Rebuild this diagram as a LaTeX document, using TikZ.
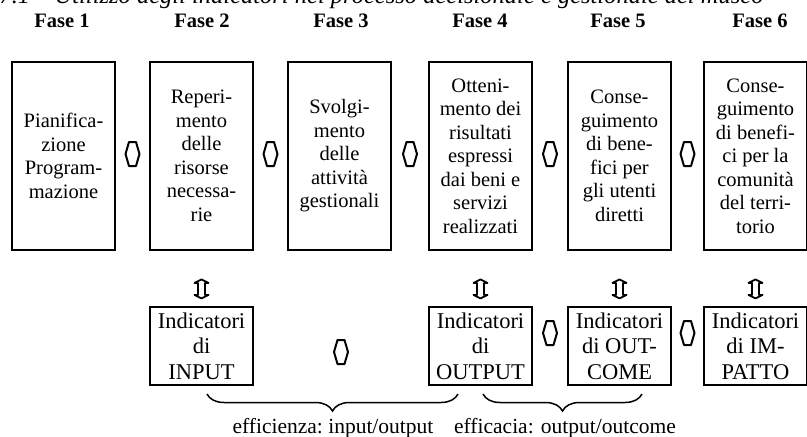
\documentclass[tikz,border=0pt]{standalone}
\usepackage{fontspec}
\setmainfont{Liberation Serif}
\usetikzlibrary{calc,positioning,decorations.pathreplacing}

\begin{document}
\begin{tikzpicture}[
    % GLOBAL CFG
    x=1pt, y=-1pt,
    font=\fontsize{20.5}{23.5}\selectfont,
    % Styles
    phase/.style={% For the main boxes
        rectangle,
        draw,
        line width=1.8pt,
        minimum width=103pt,
        minimum height=188pt,
        inner sep=0pt,
        align=center,
        },
    indicator/.style={% For the boxes with the indicators
        rectangle,
        draw,
        line width=1.8pt,
        minimum width=103pt,
        minimum height=78pt,
        inner sep=0pt,
        align=center,
        font=\fontsize{22.5}{25.5}\selectfont,
        },
    title/.style={% For the phase names
        font=\fontsize{20.5}{24}\selectfont\bfseries,
        anchor=base,
        },
    ratio/.style={% For the texts under the braces
        font=\fontsize{21.5}{24}\selectfont,
        anchor=base,
        },
    brace/.style={% Curly braces under the indicators
        decorate,
        decoration={brace, mirror, amplitude=17pt},
        line width=1.5pt,
        },
    hlink/.pic={% horizontal double arrow
        \draw[line width=2pt, line join=round]
            (-3.5,-12) -- (3.5,-12) -- (7,0) -- (3.5,12) -- (-3.5,12) -- (-7,0) -- cycle;
        },
    vlink/.pic={% vertical double arrow
        \draw[line width=1.8pt, line join=round]
            (-3.5,-6) -- (-7,-6) -- (0,-9.5) -- (7,-6) -- (3.5,-6) -- (3.5,6)
            -- (7,6) -- (0,9.5) -- (-7,6) -- (-3.5,6) -- cycle;
        },
    ]

    % Bounding box of the page
    \useasboundingbox (0,0) rectangle (807,437);

    % Caption, cut at the top
    \node[anchor=base west, font=\fontsize{24.5}{26}\selectfont\itshape] (cap) at (-4,3)
        {7.1 -- Utilizzo degli indicatori nel processo decisionale e gestionale del museo};

    % Phase names
    \node[title] (t1) at (62,27) {Fase 1};
    \node[title] (t2) at (202,27) {Fase 2};
    \node[title] (t3) at (341,27) {Fase 3};
    \node[title] (t4) at (480,27) {Fase 4};
    \node[title] (t5) at (618,27) {Fase 5};
    \node[title] (t6) at (760,27) {Fase 6};

    % Draw the phases named p#
    \node[phase] (p1) at (63.5,156) {Pianifica-\\zione\\Program-\\mazione};
    \node[phase] (p2) at (201.5,156) {Reperi-\\mento\\delle\\risorse\\necessa-\\rie};
    \node[phase] (p3) at (339.5,156) {Svolgi-\\mento\\delle\\attività\\gestionali};
    \node[phase] (p4) at (480.5,156) {Otteni-\\mento dei\\risultati\\espressi\\dai beni e\\servizi\\realizzati};
    \node[phase] (p5) at (619.5,156) {Conse-\\guimento\\di bene-\\fici per\\gli utenti\\diretti};
    \node[phase] (p6) at (755.5,156) {Conse-\\guimento\\di benefi-\\ci per la\\comunità\\del terri-\\torio};

    % Draw the indicators named i#
    \node[indicator] (i2) at (201.5,346) {Indicatori\\di\\INPUT};
    \node[indicator] (i4) at (480.5,346) {Indicatori\\di\\OUTPUT};
    \node[indicator] (i5) at (619.5,346) {Indicatori\\di OUT-\\COME};
    \node[indicator] (i6) at (755.5,346) {Indicatori\\di IM-\\PATTO};

    % Links between the phases
    \pic (l12) at ($(p1.east)!0.5!(p2.west)+(0,-2)$) {hlink};
    \pic (l23) at ($(p2.east)!0.5!(p3.west)+(0,-2)$) {hlink};
    \pic (l34) at ($(p3.east)!0.5!(p4.west)+(0,-2)$) {hlink};
    \pic (l45) at ($(p4.east)!0.5!(p5.west)+(0,-2)$) {hlink};
    \pic (l56) at ($(p5.east)!0.5!(p6.west)+(0,-2)$) {hlink};

    % Links phase - indicator
    \pic (v2) at ($(p2.south)+(0,38)$) {vlink};
    \pic (v4) at ($(p4.south)+(0,38)$) {vlink};
    \pic (v5) at ($(p5.south)+(0,38)$) {vlink};
    \pic (v6) at ($(p6.south)+(0,38)$) {vlink};

    % Links between the indicators
    \pic (k24) at ($(i2.east)!0.5!(i4.west)+(0,6)$) {hlink};
    \pic (k45) at ($(i4.east)!0.5!(i5.west)+(0,-13)$) {hlink};
    \pic (k56) at ($(i5.east)!0.5!(i6.west)+(0,-13)$) {hlink};

    % Braces and ratios
    \coordinate (b1a) at (207,394);
    \coordinate (b1b) at (458,394);
    \coordinate (b2a) at (483,394);
    \coordinate (b2b) at (642,394);
    \draw[brace] (b1a) -- (b1b);
    \draw[brace] (b2a) -- (b2b);
    \node[ratio] (r1) at (333,433) {efficienza:\ input/output};
    \node[ratio] (r2) at (565,433) {efficacia: output/outcome};

\end{tikzpicture}
\end{document}
